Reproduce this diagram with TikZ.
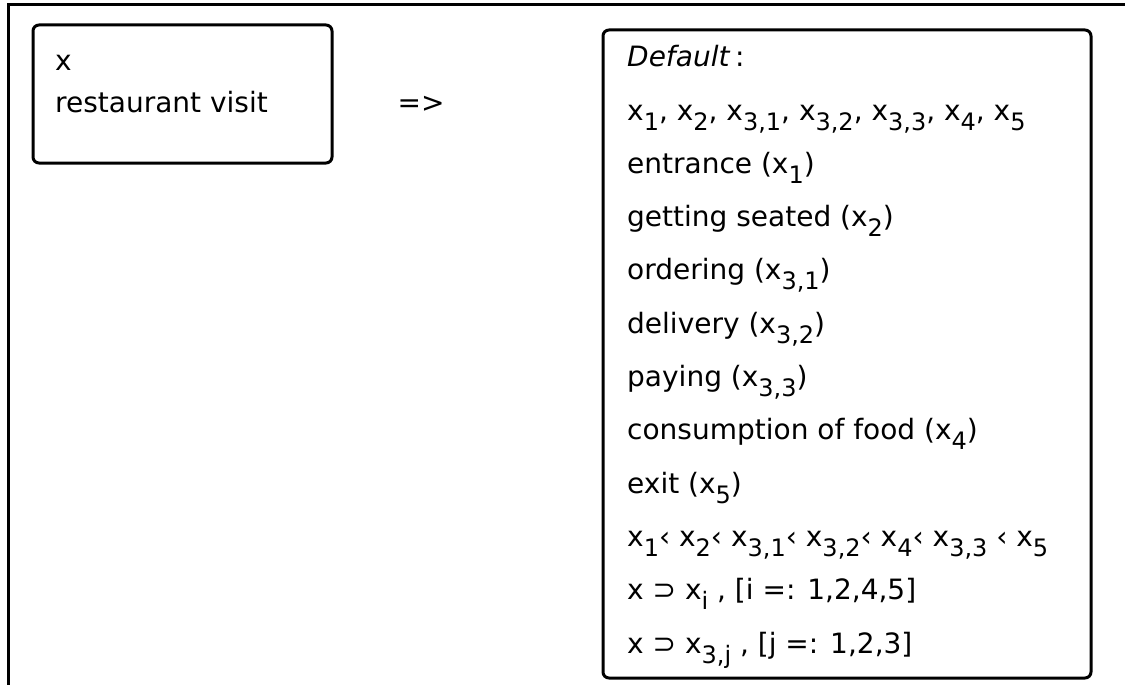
\documentclass[tikz,border=0pt]{standalone}
\usepackage{fontspec}
\setmainfont{DejaVu Sans}
\usetikzlibrary{positioning}

\newcommand{\xx}[1]{x\raisebox{-10pt}{\fontsize{24}{24}\selectfont#1}}

\begin{document}
\begin{tikzpicture}[x=1pt, y=-1pt,
    box/.style={rectangle, rounded corners=6pt, draw=black, line width=3pt},
    txt/.style={align=left, inner sep=0pt, font=\fontsize{28}{53.3}\selectfont}
    ]
    \useasboundingbox (0,0) rectangle (1125,685);
    \draw[line width=3pt] (1125,5) -| (8,685);

    \node[box, minimum width=299pt, minimum height=138pt] (visit) at (182.5,94) {};
    \node[txt, anchor=base west, font=\fontsize{28}{43}\selectfont] (visittext) at (55,113) {x\\restaurant visit};

    \node[txt] (then) at (421,104) {=>};

    \node[box, minimum width=488pt, minimum height=648pt] (default) at (847,354) {};
    \node[txt, anchor=base west] (defaulttext) at (627,653) {\textit{Default}\,:\\
      \xx{1}, \xx{2}, \xx{3,1}, \xx{3,2}, \xx{3,3}, \xx{4}, \xx{5}\\
      entrance (\xx{1})\\
      getting seated (\xx{2})\\
      ordering (\xx{3,1})\\
      delivery (\xx{3,2})\\
      paying (\xx{3,3})\\
      consumption of food (\xx{4})\\
      exit (\xx{5})\\
      \xx{1}‹ \xx{2}‹ \xx{3,1}‹ \xx{3,2}‹ \xx{4}‹ \xx{3,3} ‹ \xx{5}\\
      x ⊃ \xx{i} , [i =: 1,2,4,5]\\
      x ⊃ \xx{3,j} , [j =: 1,2,3]};
  \end{tikzpicture}
\end{document}
